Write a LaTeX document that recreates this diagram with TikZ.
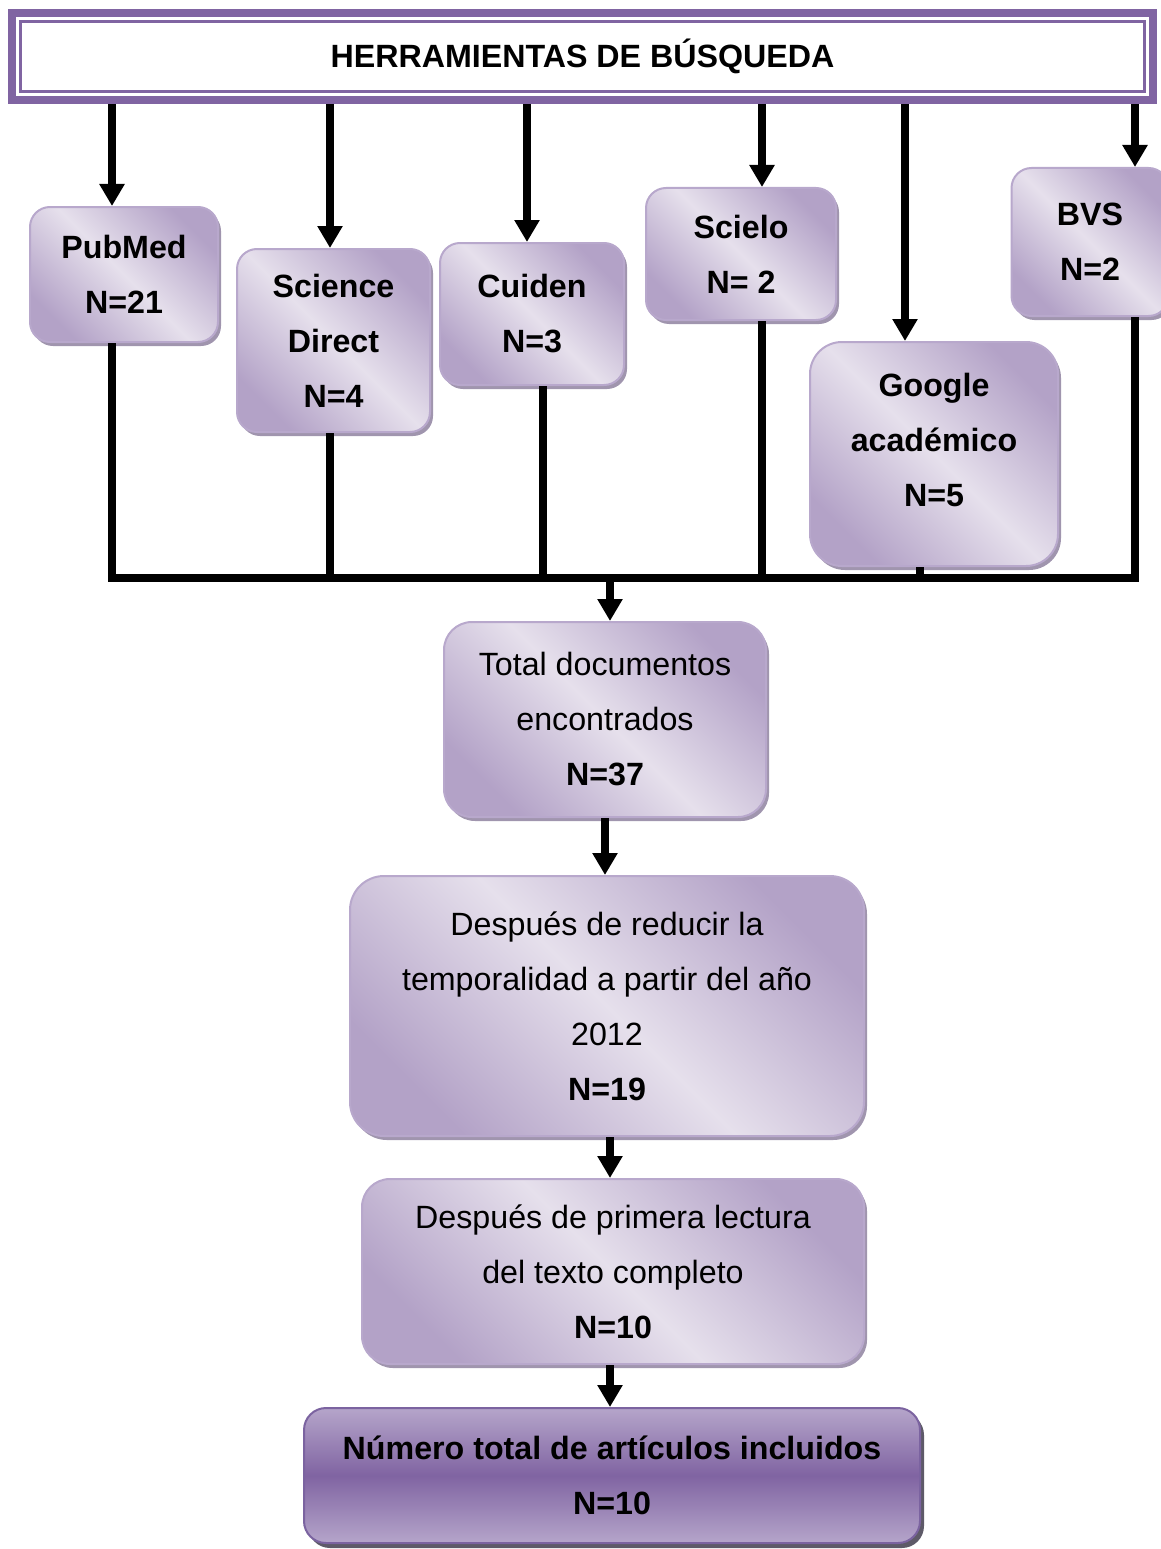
\documentclass[tikz,border=0pt]{standalone}
\usepackage{fontspec}
\setmainfont{Liberation Sans}
\usetikzlibrary{arrows.meta,shadows}
\definecolor{hdrcol}{HTML}{8064A2}
\definecolor{bxlight}{HTML}{E6E0EC}
\definecolor{bxdark}{HTML}{B3A2C7}
\definecolor{bxline}{HTML}{B8A8CC}
\definecolor{shcol}{HTML}{A095AE}
\definecolor{findark}{HTML}{8064A2}
\definecolor{finlight}{HTML}{B5A5CA}
\definecolor{finline}{HTML}{7B63A0}
\definecolor{finsh}{HTML}{5E5A68}
\begin{document}
\begin{tikzpicture}[x=1pt,y=-1pt,
  every node/.style={font=\fontsize{32.2}{55}\selectfont, align=center, inner sep=0pt},
  srcbox/.style={draw=bxline, line width=2pt, rounded corners=20pt,
    top color=bxdark, bottom color=bxdark, middle color=bxlight, shading angle=-45,
    drop shadow={shadow xshift=3pt, shadow yshift=-4pt, fill=shcol, opacity=1}},
  finbox/.style={draw=finline, line width=2pt, rounded corners=22pt,
    top color=finlight, bottom color=finlight, middle color=findark,
    drop shadow={shadow xshift=4pt, shadow yshift=-5pt, fill=finsh, opacity=1}},
  conn/.style={draw=black, line width=8pt},
  arr/.style={conn, -{Triangle[width=24pt,length=22pt]}},
  bfont/.style={font=\fontsize{32.2}{55}\selectfont\bfseries},
  lbltext/.style={bfont, align=center}
]
\useasboundingbox (0,0) rectangle (1161,1549);

% header
\node[draw=hdrcol, line width=8pt, minimum width=1141pt, minimum height=87pt,
      font=\fontsize{32.2}{40}\selectfont\bfseries] (hdr) at (582.5,56.5) {HERRAMIENTAS DE BÚSQUEDA};
\draw[hdrcol, line width=3pt] ([xshift=12.5pt,yshift=-12.5pt]hdr.north west) rectangle ([xshift=-12.5pt,yshift=12.5pt]hdr.south east);

% source boxes
\node[srcbox, bfont, minimum width=188pt, minimum height=135pt] (pub) at (124,274.5) {PubMed\\N=21};
\node[srcbox, bfont, minimum width=193pt, minimum height=183pt] (sci) at (333.5,340.5) {Science\\Direct\\N=4};
\node[srcbox, bfont, minimum width=184pt, minimum height=142pt] (cui) at (532,314) {Cuiden\\N=3};
\node[srcbox, bfont, minimum width=190pt, minimum height=132pt] (scl) at (741,254) {Scielo\\N= 2};
\node[srcbox, bfont, minimum width=157pt, minimum height=148pt] (bvs) at (1090,242) {BVS\\N=2};
\node[srcbox, minimum width=248pt, minimum height=224pt, rounded corners=32pt,
      label={[lbltext, name=gooT, yshift=14pt]center:{Google\\académico\\N=5}}] (goo) at (934,454) {};

% bus
\coordinate (busL) at (112,578);
\coordinate (busR) at (1135,578);

% arrows from header
\draw[arr] ([xshift=-12pt]pub.north |- hdr.south) -- ([xshift=-12pt]pub.north);
\draw[arr] ([xshift=-3.5pt]sci.north |- hdr.south) -- ([xshift=-3.5pt]sci.north);
\draw[arr] ([xshift=-5pt]cui.north |- hdr.south) -- ([xshift=-5pt]cui.north);
\draw[arr] ([xshift=21pt]scl.north |- hdr.south) -- ([xshift=21pt]scl.north);
\draw[arr] ([xshift=-29pt]goo.north |- hdr.south) -- ([xshift=-29pt]goo.north);
\draw[arr] ([xshift=45pt]bvs.north |- hdr.south) -- ([xshift=45pt]bvs.north);

% drops to bus
\draw[conn] ([xshift=-12pt]pub.south) -- ([xshift=-12pt]pub.south |- busL);
\draw[conn] ([xshift=-3.5pt]sci.south) -- ([xshift=-3.5pt]sci.south |- busL);
\draw[conn] ([xshift=11pt]cui.south) -- ([xshift=11pt]cui.south |- busL);
\draw[conn] ([xshift=21pt]scl.south) -- ([xshift=21pt]scl.south |- busL);
\draw[conn] ([xshift=-14pt]goo.south) -- ([xshift=-14pt]goo.south |- busL);
\draw[conn] ([xshift=45pt]bvs.south) -- ([xshift=45pt]bvs.south |- busL);
\draw[conn, line cap=rect] (busL) -- (busR);

% flow boxes
\node[srcbox, minimum width=322pt, minimum height=195pt, rounded corners=28pt] (tot) at (605,719.5) {Total documentos\\encontrados\\\textbf{N=37}};
\node[srcbox, minimum width=514pt, minimum height=260pt, rounded corners=34pt] (red) at (607,1006) {Después de reducir la\\temporalidad a partir del año\\2012\\\textbf{N=19}};
\node[srcbox, minimum width=502pt, minimum height=185pt, rounded corners=28pt] (lec) at (613,1271.5) {Después de primera lectura\\del texto completo\\\textbf{N=10}};
\node[finbox, bfont, minimum width=616pt, minimum height=135pt] (fin) at (612,1475.5) {Número total de artículos incluidos\\N=10};

% flow arrows
\draw[arr] ([xshift=5pt]tot.north |- busL) -- ([xshift=5pt]tot.north);
\draw[arr] (tot.south) -- (tot.south |- red.north);
\draw[arr] ([xshift=3pt]red.south) -- ([xshift=3pt]red.south |- lec.north);
\draw[arr] ([xshift=-3pt]lec.south) -- ([xshift=-3pt]lec.south |- fin.north);
\end{tikzpicture}
\end{document}
